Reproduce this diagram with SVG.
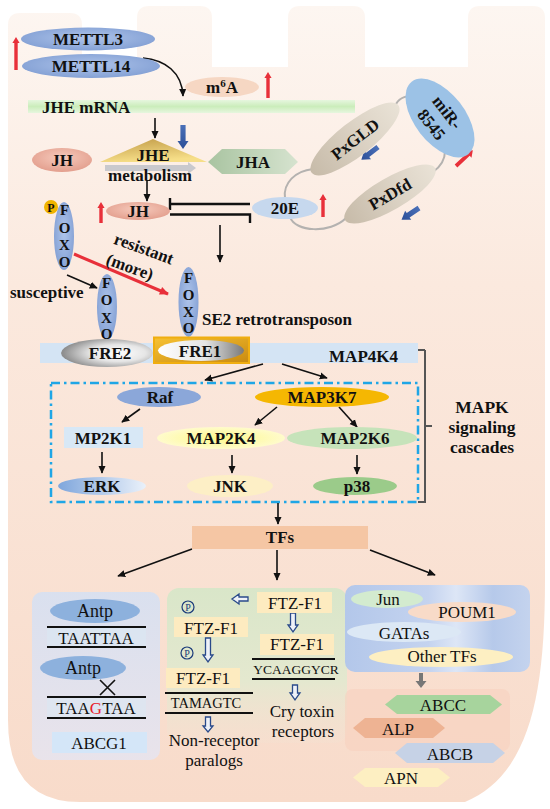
<svg xmlns="http://www.w3.org/2000/svg" width="550" height="809" viewBox="0 0 550 809">
<defs>
<style>
.b{font-family:"Liberation Serif",serif;font-weight:bold;font-size:17px;fill:#111;text-anchor:middle}
.n{font-family:"Liberation Serif",serif;font-size:17px;fill:#111;text-anchor:middle}
.fx{font-family:"Liberation Serif",serif;font-weight:bold;font-size:15px;fill:#111;text-anchor:middle}
.arr{stroke:#111;stroke-width:1.6;fill:none;marker-end:url(#ah)}
.dna{stroke:#111;stroke-width:2.2}
.hol{fill:#eef1f8;stroke:#2a4a8a;stroke-width:1.3}
.gray{fill:none;stroke:#b4b2b0;stroke-width:2}
.red{fill:#e8303a}
.blu{fill:url(#gBlueArr)}
</style>
<marker id="ah" viewBox="0 0 10 10" refX="9" refY="5" markerWidth="8" markerHeight="8" markerUnits="userSpaceOnUse" orient="auto">
<path d="M0,0.5 L10,5 L0,9.5 z" fill="#111"/>
</marker>
<marker id="rh" viewBox="0 0 10 10" refX="9" refY="5" markerWidth="10" markerHeight="9" markerUnits="userSpaceOnUse" orient="auto">
<path d="M0,0.5 L10,5 L0,9.5 z" fill="#e8303a"/>
</marker>
<linearGradient id="bg" x1="0" y1="0" x2="0" y2="1">
<stop offset="0" stop-color="#fdf6f1"/>
<stop offset="0.35" stop-color="#fbe9de"/>
<stop offset="1" stop-color="#f8dbca"/>
</linearGradient>
<radialGradient id="gBlue" cx="0.5" cy="0.45" r="0.6">
<stop offset="0" stop-color="#aec4ea"/>
<stop offset="1" stop-color="#819ed3"/>
</radialGradient>
<linearGradient id="gBlueArr" x1="0" y1="0" x2="1" y2="0">
<stop offset="0" stop-color="#4a70b8"/>
<stop offset="1" stop-color="#2c4f98"/>
</linearGradient>
<linearGradient id="gMrna" x1="0" y1="0" x2="0" y2="1">
<stop offset="0" stop-color="#e6f6de"/>
<stop offset="0.5" stop-color="#cbedbb"/>
<stop offset="1" stop-color="#e6f6de"/>
</linearGradient>
<linearGradient id="gJHE" x1="0" y1="0" x2="0.3" y2="1">
<stop offset="0" stop-color="#c29c48"/>
<stop offset="1" stop-color="#f6de88"/>
</linearGradient>
<radialGradient id="gJH" cx="0.5" cy="0.4" r="0.6">
<stop offset="0" stop-color="#f6cabc"/>
<stop offset="1" stop-color="#e39f8e"/>
</radialGradient>
<linearGradient id="gJHA" x1="0" y1="0" x2="1" y2="0">
<stop offset="0" stop-color="#a9c4a1"/>
<stop offset="1" stop-color="#d6e3cf"/>
</linearGradient>
<linearGradient id="gTan" x1="0" y1="0" x2="1" y2="0">
<stop offset="0" stop-color="#c7bba9"/>
<stop offset="0.6" stop-color="#ddd4c6"/>
<stop offset="1" stop-color="#e9e2d6"/>
</linearGradient>
<radialGradient id="gFRE2" cx="0.62" cy="0.5" r="0.6">
<stop offset="0" stop-color="#ffffff"/>
<stop offset="0.5" stop-color="#e6e6e6"/>
<stop offset="1" stop-color="#8e8e8e"/>
</radialGradient>
<linearGradient id="gFRE1" x1="0" y1="0" x2="1" y2="0">
<stop offset="0" stop-color="#ffffff"/>
<stop offset="0.55" stop-color="#e4e4e4"/>
<stop offset="1" stop-color="#7a7a7a"/>
</linearGradient>
<linearGradient id="gGold" x1="0" y1="0" x2="1" y2="1">
<stop offset="0" stop-color="#f7c233"/>
<stop offset="1" stop-color="#c98a10"/>
</linearGradient>
<radialGradient id="gM2K4" cx="0.5" cy="0.5" r="0.55">
<stop offset="0" stop-color="#fdf98a"/>
<stop offset="1" stop-color="#fffbd2"/>
</radialGradient>
<linearGradient id="gERK" x1="0" y1="0" x2="1" y2="0">
<stop offset="0" stop-color="#7fa6dc"/>
<stop offset="1" stop-color="#eaf1fa"/>
</linearGradient>
<linearGradient id="gLeftP" x1="0" y1="0" x2="0" y2="1">
<stop offset="0" stop-color="#d6e0f2"/>
<stop offset="1" stop-color="#e7e4ee"/>
</linearGradient>
<linearGradient id="gMidP" x1="0" y1="0" x2="0" y2="1">
<stop offset="0" stop-color="#d9e6c9"/>
<stop offset="0.6" stop-color="#e4e8cf"/>
<stop offset="1" stop-color="#f2e2d2" stop-opacity="0.3"/>
</linearGradient>
<linearGradient id="gTFP" x1="0" y1="0" x2="1" y2="0">
<stop offset="0" stop-color="#b3c7ea"/>
<stop offset="0.45" stop-color="#c4d3ef"/>
<stop offset="0.6" stop-color="#dde6f6"/>
<stop offset="0.8" stop-color="#b6c9ea"/>
<stop offset="1" stop-color="#c4d3ee"/>
</linearGradient>
</defs>

<g id="background">
<path d="M8,700 V25 Q8,13 20,13 H70 Q82,13 82,25 V67 H137 V18 Q137,6 149,6 H200 Q212,6 212,18 V67 H288 V18 Q288,6 300,6 H353 Q365,6 365,18 V67 H468 V18 Q468,6 480,6 H533 Q545,6 545,18 V580 C545,700 528,775 465,802 H80 Q8,802 8,720 Z" fill="url(#bg)"/>
</g>

<g id="panels">
<rect id="panel-antp" x="32" y="592" width="128" height="168" rx="10" fill="url(#gLeftP)" opacity="0.9"/>
<rect id="panel-ftz" x="167" y="588" width="180" height="155" rx="12" fill="url(#gMidP)"/>
<rect id="panel-tfs" x="345" y="585" width="185" height="87" rx="10" fill="url(#gTFP)"/>
<rect id="panel-genes" x="345" y="689" width="165" height="62" rx="8" fill="#f7cfbd" opacity="0.55"/>
<rect id="mapk-box" x="51" y="383" width="367" height="119" fill="none" stroke="#1fa6e6" stroke-width="2.5" stroke-dasharray="9 4 2.5 4"/>
</g>

<g id="connectors">
<path class="arr" d="M143,58 C165,60 182,72 183,96"/>
<line class="arr" x1="155" y1="118" x2="155" y2="138"/>
<line class="arr" x1="147" y1="180" x2="147" y2="201"/>
<path d="M250,204 H170 M170,198 V210" stroke="#111" stroke-width="2.4" fill="none"/>
<path d="M170,214.5 H250 V223" stroke="#111" stroke-width="2.4" fill="none"/>
<line class="arr" x1="220" y1="225" x2="220" y2="262"/>
<path class="gray" d="M285,198 C283,183 295,171 313,169"/>
<path class="gray" d="M290,217 C295,232 330,234 346,218"/>
<path class="gray" d="M396,104 C400,97 408,95 414,97"/>
<path class="gray" d="M445,151 C445,160 440,167 433,172"/>
<line x1="74" y1="254" x2="168" y2="294" stroke="#e8303a" stroke-width="3" marker-end="url(#rh)"/>
<line class="arr" x1="67" y1="275" x2="97" y2="288"/>
<line class="arr" x1="263" y1="364" x2="205" y2="380"/>
<line class="arr" x1="282" y1="364" x2="327" y2="378"/>
<line class="arr" x1="140" y1="409" x2="122" y2="422"/>
<line class="arr" x1="277" y1="407" x2="255" y2="425"/>
<line class="arr" x1="339" y1="407" x2="357" y2="427"/>
<line class="arr" x1="102" y1="452" x2="102" y2="473"/>
<line class="arr" x1="232" y1="455" x2="232" y2="473"/>
<line class="arr" x1="357" y1="455" x2="357" y2="474"/>
<line class="arr" x1="278" y1="503" x2="278" y2="524"/>
<line class="arr" x1="192" y1="549" x2="118" y2="576"/>
<line class="arr" x1="277" y1="550" x2="277" y2="580"/>
<line class="arr" x1="370" y1="550" x2="435" y2="575"/>
<path d="M425,350 H418 M425,350 V502 H418 M425,426 H432" stroke="#555" stroke-width="2" fill="none"/>
<path class="red" transform="translate(16,70) rotate(-90)" d="M0,-1.7 H27 V-3.6 L33,0 L27,3.6 V1.7 H0 Z"/>
<path class="red" transform="translate(268,98) rotate(-90)" d="M0,-1.7 H20 V-3.6 L26,0 L20,3.6 V1.7 H0 Z"/>
<path class="red" transform="translate(101,223) rotate(-90)" d="M0,-1.7 H15 V-3.6 L21,0 L15,3.6 V1.7 H0 Z"/>
<path class="red" transform="translate(323,217) rotate(-90)" d="M0,-1.7 H17 V-3.6 L23,0 L17,3.6 V1.7 H0 Z"/>
<path class="red" transform="translate(456,166) rotate(-43)" d="M0,-1.9 H17 V-4.5 L23,0 L17,4.5 V1.9 H0 Z"/>
<path class="blu" transform="translate(183,125) rotate(90)" d="M0,-2.6 H16 V-5.5 L24,0 L16,5.5 V2.6 H0 Z"/>
<path class="blu" transform="translate(378,147) rotate(142.6)" d="M0,-2.6 H13 V-5.5 L21,0 L13,5.5 V2.6 H0 Z"/>
<path class="blu" transform="translate(419,208) rotate(146.3)" d="M0,-2.6 H13 V-5.5 L21,0 L13,5.5 V2.6 H0 Z"/>
<path class="hol" d="M248,597 H239 V594 L232,599 L239,604 V601 H248 Z"/>
<path class="hol" d="M205.5,638 H210.5 V655 H213 L208,662 L203,655 H205.5 Z"/>
<path class="hol" d="M205.5,717 H210.5 V726 H213 L208,732 L203,726 H205.5 Z"/>
<path class="hol" d="M290.5,613 H295.5 V625 H298 L293,632 L288,625 H290.5 Z"/>
<path class="hol" d="M292.5,685 H297.5 V693 H300 L295,700 L290,693 H292.5 Z"/>
<path d="M419,673 H423 V681 H426.5 L421,688 L415.5,681 H419 Z" fill="#777"/>
</g>

<g id="METTL3"><ellipse cx="88" cy="39" rx="67" ry="11.5" fill="url(#gBlue)"/><text class="b" x="88" y="45">METTL3</text></g>
<g id="METTL14"><ellipse cx="91" cy="66" rx="69" ry="12" fill="url(#gBlue)"/><text class="b" x="91" y="72">METTL14</text></g>
<g id="m6A"><ellipse cx="222" cy="87" rx="37" ry="10" fill="#f6d7c3"/><text class="b" x="222" y="93">m<tspan font-size="11" dy="-6">6</tspan><tspan dy="6">A</tspan></text></g>
<g id="JHE-mRNA"><rect x="28" y="100" width="327" height="13" fill="url(#gMrna)"/><text class="b" x="42" y="113" style="text-anchor:start">JHE mRNA</text></g>
<g id="JH-left"><ellipse cx="62" cy="160" rx="30" ry="12" fill="url(#gJH)"/><text class="b" x="62" y="166">JH</text></g>
<g id="JHE"><polygon points="100,162 153,139 207,162" fill="url(#gJHE)"/><text class="b" x="153" y="161">JHE</text>
<polygon points="105,165 188,165 188,162 196,168 188,174 188,171 105,171" fill="#c9c9cd"/>
<text class="b" x="150" y="181">metabolism</text></g>
<g id="JHA"><polygon points="208,162 222,149 285,149 298,162 285,174 222,174" fill="url(#gJHA)"/><text class="b" x="253" y="168">JHA</text></g>
<g id="JH-mid"><ellipse cx="138" cy="211" rx="32" ry="9" fill="url(#gJH)"/><text class="b" x="138" y="217">JH</text></g>
<g id="E20"><ellipse cx="285" cy="208" rx="33" ry="11" fill="#c6d8ee"/><text class="b" x="285" y="214">20E</text></g>
<g id="PxGLD" transform="translate(355,139) rotate(-38)"><ellipse cx="0" cy="0" rx="55" ry="17" fill="url(#gTan)"/><text class="b" x="0" y="6">PxGLD</text></g>
<g id="PxDfd" transform="translate(390,194) rotate(-30)"><ellipse cx="0" cy="0" rx="52" ry="16" fill="url(#gTan)"/><text class="b" x="0" y="6">PxDfd</text></g>
<g id="miR-8545" transform="translate(440,118) rotate(52)"><ellipse cx="0" cy="0" rx="46" ry="25" fill="#9cc2e6"/><text class="b" x="0" y="-3.5">miR-</text><text class="b" x="0" y="16.5">8545</text></g>

<g id="FOXO-P"><ellipse cx="64" cy="236" rx="10" ry="34" fill="url(#gBlue)"/>
<text class="fx" x="64.5" y="215">F</text><text class="fx" x="64.5" y="233">O</text><text class="fx" x="64.5" y="250">X</text><text class="fx" x="64.5" y="267">O</text>
<circle cx="51" cy="207" r="7" fill="#f0b400"/><text class="fx" x="51" y="211.5" style="font-size:12px">P</text></g>
<g id="resistant-label" transform="translate(142,254) rotate(20)"><text class="b" x="0" y="0">resistant</text><text class="b" x="-7" y="22">(more)</text></g>
<g id="susceptive-label"><text class="b" x="10" y="298" style="text-anchor:start">susceptive</text></g>
<g id="FOXO-2"><ellipse cx="107" cy="307" rx="10" ry="33" fill="url(#gBlue)"/>
<text class="fx" x="106.5" y="288">F</text><text class="fx" x="106.5" y="305">O</text><text class="fx" x="106.5" y="323">X</text><text class="fx" x="106.5" y="339">O</text></g>
<g id="FOXO-1"><ellipse cx="188.5" cy="302" rx="10" ry="35" fill="url(#gBlue)"/>
<text class="fx" x="188.5" y="283">F</text><text class="fx" x="188.5" y="300">O</text><text class="fx" x="188.5" y="317">X</text><text class="fx" x="188.5" y="333">O</text></g>
<g id="SE2-label"><text class="b" x="202" y="325" style="text-anchor:start">SE2 retrotransposon</text></g>

<g id="MAP4K4"><rect x="40" y="343" width="378" height="20" fill="#d4e4f4"/><text class="b" x="398" y="362" style="text-anchor:end">MAP4K4</text></g>
<g id="FRE2"><ellipse cx="107" cy="353" rx="46" ry="14" fill="url(#gFRE2)"/><text class="b" x="110" y="359">FRE2</text></g>
<g id="FRE1"><rect x="154" y="337.5" width="95" height="25.5" fill="url(#gGold)" stroke="#f0ae10" stroke-width="2"/><ellipse cx="201" cy="350.5" rx="43" ry="10.5" fill="url(#gFRE1)"/><text class="b" x="200" y="356.5">FRE1</text></g>

<g id="Raf"><ellipse cx="159" cy="397" rx="42" ry="10" fill="#8ba7d9"/><text class="b" x="160" y="403">Raf</text></g>
<g id="MAP3K7"><ellipse cx="322" cy="397" rx="67" ry="10" fill="#f5b702"/><text class="b" x="322" y="403">MAP3K7</text></g>
<g id="MP2K1"><rect x="64" y="427" width="79" height="21" fill="#d8e8f6"/><text class="b" x="103" y="444">MP2K1</text></g>
<g id="MAP2K4"><ellipse cx="221" cy="438" rx="64" ry="11" fill="url(#gM2K4)"/><text class="b" x="221" y="444">MAP2K4</text></g>
<g id="MAP2K6"><ellipse cx="352" cy="438" rx="65" ry="11" fill="#c6e3ba"/><text class="b" x="355" y="444">MAP2K6</text></g>
<g id="ERK"><ellipse cx="102" cy="486" rx="44" ry="9" fill="url(#gERK)"/><text class="b" x="102" y="492">ERK</text></g>
<g id="JNK"><ellipse cx="230" cy="486" rx="43" ry="11" fill="#fdefc6"/><text class="b" x="230" y="492">JNK</text></g>
<g id="p38"><ellipse cx="355" cy="486" rx="42" ry="9" fill="#9bcb8a"/><text class="b" x="357" y="492">p38</text></g>
<g id="MAPK-label"><text class="b" x="482" y="413" style="font-size:17.5px">MAPK</text><text class="b" x="482" y="433" style="font-size:17.5px">signaling</text><text class="b" x="482" y="453" style="font-size:17.5px">cascades</text></g>

<g id="TFs"><rect x="192" y="526" width="176" height="23" fill="#f5c6a4"/><text class="b" x="280" y="543">TFs</text></g>

<g id="Antp-panel">
<ellipse cx="95" cy="611" rx="45" ry="12" fill="#8db1dd"/><text class="n" x="95" y="617" style="font-size:18px">Antp</text>
<rect x="47" y="628" width="99" height="18" fill="#dbe7f4" opacity="0.6"/>
<line class="dna" x1="47" y1="627" x2="146" y2="627"/><line class="dna" x1="47" y1="647" x2="146" y2="647"/>
<text class="n" x="96" y="644">TAATTAA</text>
<ellipse cx="83" cy="668" rx="43" ry="12" fill="#8db1dd"/><text class="n" x="83" y="674" style="font-size:18px">Antp</text>
<path d="M100,680 L115,695 M115,680 L100,695" stroke="#111" stroke-width="1.6"/>
<rect x="47" y="698" width="99" height="19" fill="#dbe7f4" opacity="0.6"/>
<line class="dna" x1="47" y1="697" x2="146" y2="697"/><line class="dna" x1="47" y1="718" x2="146" y2="718"/>
<text class="n" x="96" y="714">TAA<tspan fill="#e8202a">G</tspan>TAA</text>
<rect x="52" y="732" width="95" height="21" fill="#d4e6f8"/><text class="n" x="99" y="749">ABCG1</text>
</g>

<g id="FTZ-panel">
<rect x="257" y="592" width="75" height="21" fill="#fdebc0"/><text class="n" x="295" y="609">FTZ-F1</text>
<circle cx="188" cy="607" r="6" fill="none" stroke="#1a3a7a" stroke-width="1.2"/><text class="n" x="188" y="611" style="font-size:10px;fill:#1a3a7a">P</text>
<rect x="174" y="617" width="74" height="20" fill="#fdebc0"/><text class="n" x="211" y="634">FTZ-F1</text>
<circle cx="187" cy="653" r="6" fill="none" stroke="#1a3a7a" stroke-width="1.2"/><text class="n" x="187" y="657" style="font-size:10px;fill:#1a3a7a">P</text>
<rect x="166" y="668" width="74" height="20" fill="#fdebc0"/><text class="n" x="203" y="684">FTZ-F1</text>
<line class="dna" x1="165" y1="693" x2="253" y2="693"/><line class="dna" x1="165" y1="713" x2="253" y2="713"/>
<text class="n" x="206" y="708" style="font-size:14.5px">TAMAGTC</text>
<text class="n" x="214" y="746" style="font-size:17px">Non-receptor</text>
<text class="n" x="214" y="766" style="font-size:17px">paralogs</text>
<rect x="260" y="634" width="74" height="21" fill="#fdebc0"/><text class="n" x="297" y="650">FTZ-F1</text>
<line class="dna" x1="252" y1="659" x2="335" y2="659"/><line class="dna" x1="252" y1="679" x2="335" y2="679"/>
<text class="n" x="296" y="674" style="font-size:13.5px">YCAAGGYCR</text>
<text class="n" x="302" y="717" style="font-size:17px">Cry toxin</text>
<text class="n" x="303" y="737" style="font-size:17px">receptors</text>
</g>

<g id="TF-panel">
<ellipse cx="387" cy="599" rx="36" ry="9" fill="#d3ebcf"/><text class="n" x="388" y="605">Jun</text>
<ellipse cx="462" cy="612" rx="54" ry="10" fill="#f8dbc8"/><text class="n" x="467" y="618">POUM1</text>
<ellipse cx="404" cy="632" rx="57" ry="10" fill="#dce8f5"/><text class="n" x="404" y="639">GATAs</text>
<ellipse cx="441" cy="657" rx="72" ry="10" fill="#fdefc2"/><text class="n" x="442" y="662">Other TFs</text>
</g>

<g id="gene-panel">
<polygon points="385,704.5 397,695 490,695 502,704.5 490,714 397,714" fill="#a7d49d"/><text class="n" x="443" y="711">ABCC</text>
<polygon points="353,728 365,718 433,718 445,728 433,738 365,738" fill="#eeb393"/><text class="n" x="398" y="735">ALP</text>
<polygon points="395,753 407,743 493,743 505,753 493,763 407,763" fill="#c6d2e6"/><text class="n" x="450" y="760">ABCB</text>
<polygon points="353,777.5 365,768 438,768 450,777.5 438,787 365,787" fill="#fdefc2"/><text class="n" x="401" y="784">APN</text>
</g>
</svg>
